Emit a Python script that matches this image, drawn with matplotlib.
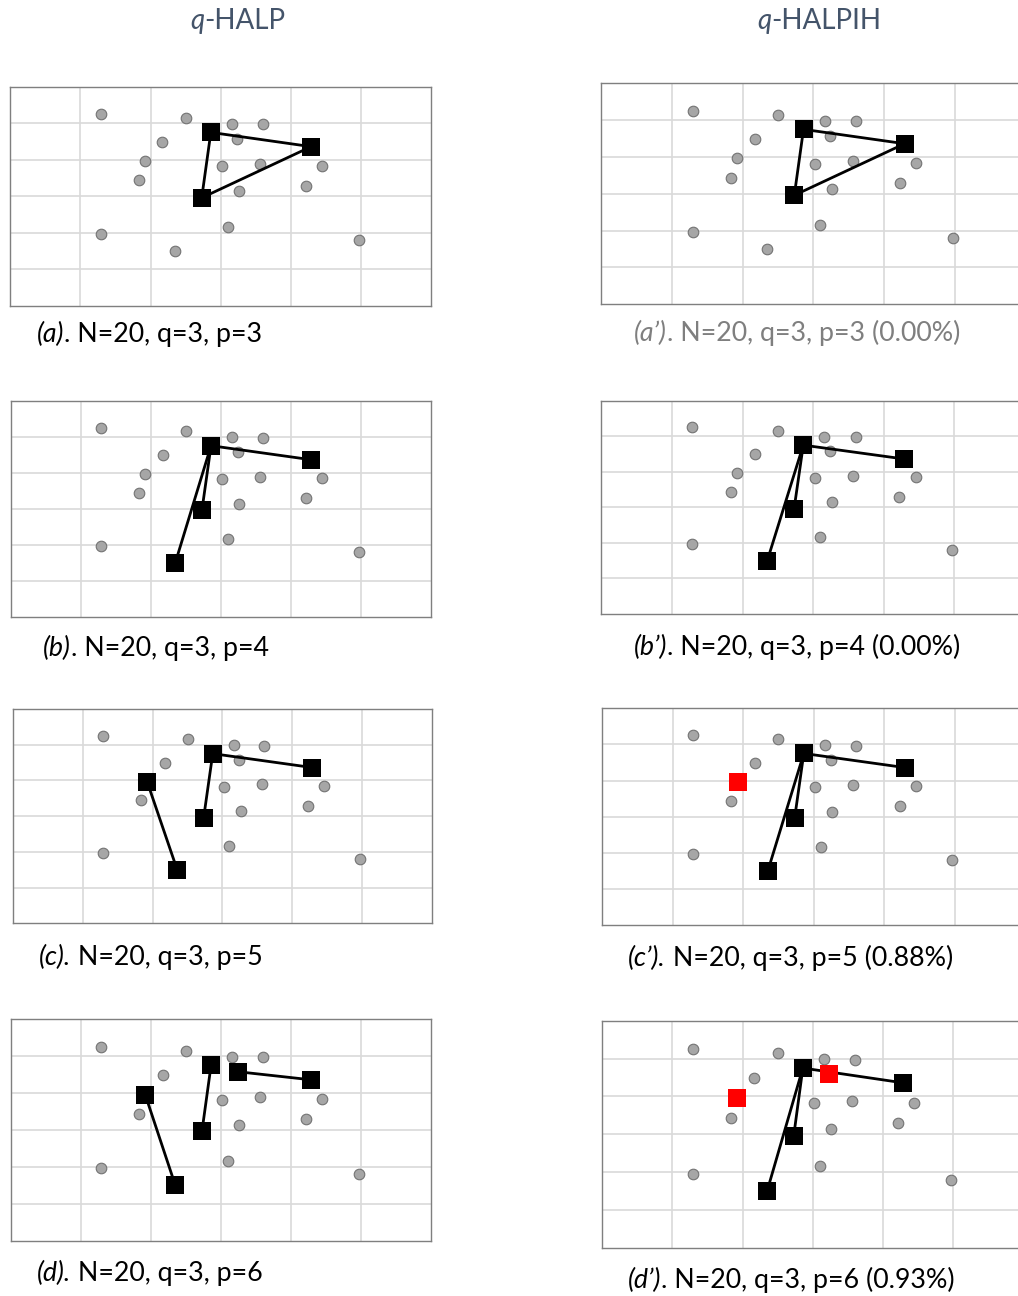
import matplotlib
matplotlib.use('Agg')
import matplotlib.pyplot as plt

# facility / demand locations (N=20)
pts_x = [1.29, 2.50, 3.16, 3.60, 2.17, 3.24, 1.92, 3.02, 3.56, 4.45,
         1.83, 3.26, 4.22, 3.10, 1.29, 2.35, 4.97, 2.86, 4.29, 2.73]
pts_y = [5.25, 5.15, 4.98, 4.97, 4.49, 4.58, 3.96, 3.82, 3.89, 3.84,
         3.44, 3.14, 3.29, 2.16, 1.96, 1.50, 1.80, 4.75, 4.36, 2.96]

# hubs (black squares), red hubs and hub links for every panel
hubs = {
    'a':  [17, 18, 19],
    "a'": [17, 18, 19],
    'b':  [17, 18, 19, 15],
    "b'": [17, 18, 19, 15],
    'c':  [17, 18, 19, 6, 15],
    "c'": [17, 18, 19, 15],
    'd':  [17, 18, 19, 6, 15, 5],
    "d'": [17, 18, 19, 15],
}
red_hubs = {"c'": [6], "d'": [6, 5]}
links = {
    'a':  [(17, 18), (18, 19), (19, 17)],
    "a'": [(17, 18), (18, 19), (19, 17)],
    'b':  [(17, 18), (17, 19), (17, 15)],
    "b'": [(17, 18), (17, 19), (17, 15)],
    'c':  [(17, 18), (17, 19), (6, 15)],
    "c'": [(17, 18), (17, 19), (17, 15)],
    'd':  [(17, 19), (5, 18), (6, 15)],
    "d'": [(17, 18), (17, 19), (17, 15)],
}
captions = {
    'a': ("(a)", ". N=20, q=3, p=3"),
    "a'": ("(a\u2019)", ". N=20, q=3, p=3 (0.00%)"),
    'b': ("(b)", ". N=20, q=3, p=4"),
    "b'": ("(b\u2019)", ". N=20, q=3, p=4 (0.00%)"),
    'c': ("(c).", " N=20, q=3, p=5"),
    "c'": ("(c\u2019).", " N=20, q=3, p=5 (0.88%)"),
    'd': ("(d).", " N=20, q=3, p=6"),
    "d'": ("(d\u2019)", ". N=20, q=3, p=6 (0.93%)"),
}

W, H = 1018, 1296
# panel boxes in pixels: left, top, right, bottom
boxes = {
    'a':  (10.3, 86.7, 431, 306),
    "a'": (601.3, 83.3, 1025.5, 304.3),
    'b':  (10.7, 400.7, 431, 616.7),
    "b'": (601.3, 400.7, 1025, 614),
    'c':  (13.3, 709, 431.7, 923.3),
    "c'": (602.3, 708.3, 1025, 925),
    'd':  (10.7, 1019.3, 431, 1240.7),
    "d'": (602.3, 1020.7, 1023, 1248),
}
# caption anchor (left x, centre y) in pixels
cap_pos = {
    'a': (37, 334), "a'": (634, 333), 'b': (43, 648), "b'": (634, 647),
    'c': (39, 957), "c'": (628, 958), 'd': (37, 1273), "d'": (628, 1280),
}

plt.rcParams['font.family'] = ['Lato', 'DejaVu Sans']
fig = plt.figure(figsize=(W / 100, H / 100), dpi=100)

for key, (l, t, r, b) in boxes.items():
    ax = fig.add_axes([l / W, (H - b) / H, (r - l) / W, (b - t) / H])
    ax.set_xlim(0, 6)
    ax.set_ylim(0, 6)
    ax.set_xticks(range(1, 6))
    ax.set_yticks(range(1, 6))
    ax.tick_params(length=0, labelbottom=False, labelleft=False)
    ax.grid(color='#d9d9d9', lw=1.2)
    ax.set_axisbelow(True)
    for s in ax.spines.values():
        s.set_color('#7f7f7f')
        s.set_linewidth(1.0)

    special = set(hubs[key]) | set(red_hubs.get(key, []))
    cx = [pts_x[i] for i in range(20) if i not in special]
    cy = [pts_y[i] for i in range(20) if i not in special]
    ax.scatter(cx, cy, s=58, c='#a6a6a6', edgecolors='#737373', lw=0.8, zorder=2)
    for i, j in links[key]:
        ax.plot([pts_x[i], pts_x[j]], [pts_y[i], pts_y[j]], color='black', lw=2.0, zorder=3)
    ax.scatter([pts_x[i] for i in hubs[key]], [pts_y[i] for i in hubs[key]],
               s=185, marker='s', c='black', lw=0, zorder=4)
    if key in red_hubs:
        ax.scatter([pts_x[i] for i in red_hubs[key]], [pts_y[i] for i in red_hubs[key]],
                   s=185, marker='s', c='#ff0000', lw=0, zorder=4)

# overlay in pixel coordinates for the texts
ov = fig.add_axes([0, 0, 1, 1], zorder=10)
ov.set_xlim(0, W)
ov.set_ylim(H, 0)
ov.axis('off')


def two_part(x, y, it_part, rest, size, color):
    t1 = ov.text(x, y, it_part, fontsize=size, style='italic', color=color,
                 ha='left', va='center')
    ov.annotate(rest, xy=(1, 0), xycoords=t1, fontsize=size, color=color,
                ha='left', va='bottom')


for key, (x, y) in cap_pos.items():
    col = '#7f7f7f' if key == "a'" else 'black'
    two_part(x, y, captions[key][0], captions[key][1], 19.3, col)

two_part(190, 21, 'q', '-HALP', 20, '#44546a')
two_part(757, 21, 'q', '-HALPIH', 20, '#44546a')

fig.savefig('out.png', dpi=100)
